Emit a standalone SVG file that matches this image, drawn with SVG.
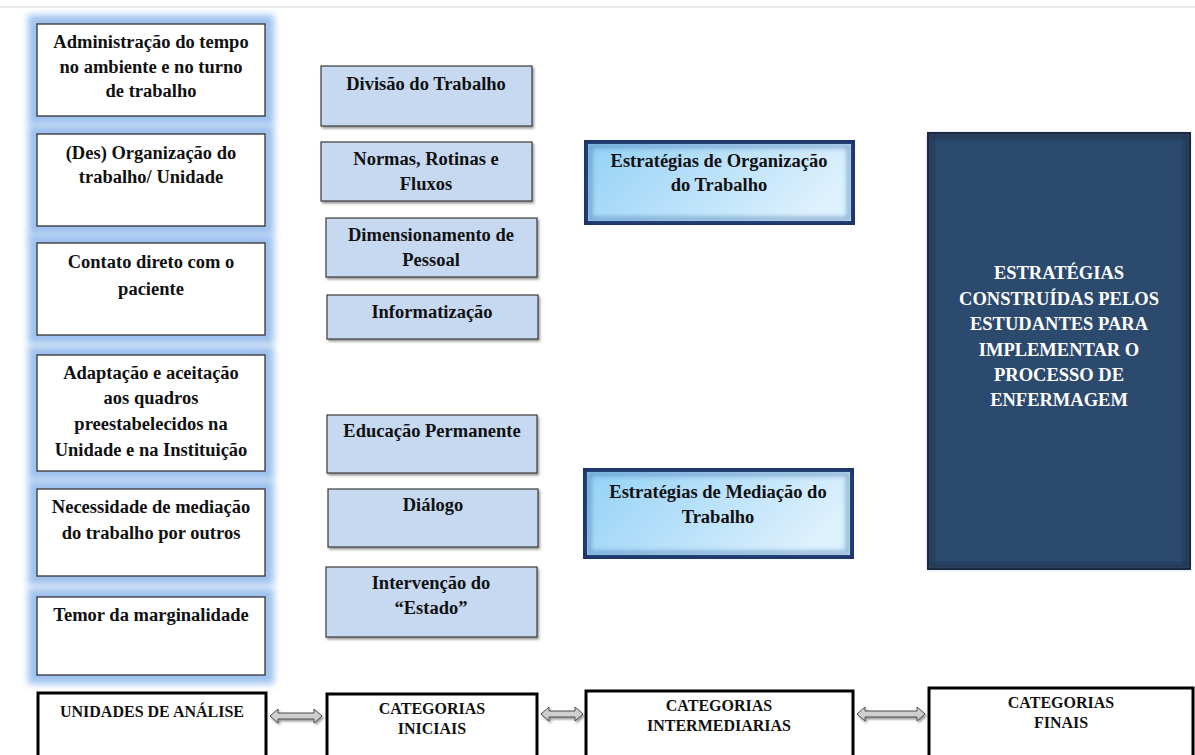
<svg xmlns="http://www.w3.org/2000/svg" width="1195" height="755" viewBox="0 0 1195 755">
<style>
text{font-family:"Liberation Serif","Times New Roman",serif;font-weight:bold;text-anchor:middle;fill:#111}
.t{font-size:18.5px}
.b{font-size:16px}
.w{font-size:18.5px;fill:#fff}
.glow{fill:#9ec1ee;filter:url(#blur)}
.unit{fill:#fff;stroke:#333;stroke-width:1.3}
.cat{fill:#c6d9f1;stroke:#3a3a3a;stroke-width:1.2;filter:url(#sh)}
.strat{fill:url(#g1);stroke:#1c3468;stroke-width:4}
.inner{fill:none;stroke:#3b6ea5;stroke-opacity:.45;stroke-width:5;filter:url(#soft)}
.bot{fill:#fff;stroke:#000;stroke-width:3}
.arr{fill:#cfcfcf;stroke:#4a4a4a;stroke-width:1;filter:url(#sh)}
</style>
<defs>
<filter id="blur" x="-20%" y="-20%" width="140%" height="140%"><feGaussianBlur stdDeviation="3.5"/></filter>
<filter id="soft" x="-10%" y="-10%" width="120%" height="120%"><feGaussianBlur stdDeviation="2"/></filter>
<filter id="sh" x="-10%" y="-10%" width="130%" height="140%"><feDropShadow dx="1.5" dy="2" stdDeviation="1.2" flood-color="#000" flood-opacity="0.4"/></filter>
<linearGradient id="g1" x1="0" y1="0" x2="1" y2="0.3">
<stop offset="0" stop-color="#93d1f6"/>
<stop offset="1" stop-color="#dcf0fd"/>
</linearGradient>
</defs>
<rect width="1195" height="755" fill="#fff"/>
<line x1="0" y1="7" x2="1195" y2="7" stroke="#d4d4d4" stroke-width="1"/>

<g id="unidades-glow">
<rect class="glow" x="28" y="15" width="246" height="110"/>
<rect class="glow" x="28" y="125" width="246" height="110"/>
<rect class="glow" x="28" y="234" width="246" height="110"/>
<rect class="glow" x="28" y="346" width="246" height="134"/>
<rect class="glow" x="28" y="480" width="246" height="105"/>
<rect class="glow" x="28" y="588" width="246" height="96"/>
</g>

<g id="u1"><rect class="unit" x="37" y="24" width="228" height="92"/>
<text class="t" x="151" y="48">Administração do tempo</text>
<text class="t" x="151" y="73">no ambiente e no turno</text>
<text class="t" x="151" y="97">de trabalho</text></g>
<g id="u2"><rect class="unit" x="37" y="134" width="228" height="92"/>
<text class="t" x="151" y="159">(Des) Organização do</text>
<text class="t" x="151" y="183">trabalho/ Unidade</text></g>
<g id="u3"><rect class="unit" x="37" y="243" width="228" height="92"/>
<text class="t" x="151" y="268">Contato direto com o</text>
<text class="t" x="151" y="295">paciente</text></g>
<g id="u4"><rect class="unit" x="37" y="355" width="228" height="116"/>
<text class="t" x="151" y="379">Adaptação e aceitação</text>
<text class="t" x="151" y="404">aos quadros</text>
<text class="t" x="151" y="430">preestabelecidos na</text>
<text class="t" x="151" y="456">Unidade e na Instituição</text></g>
<g id="u5"><rect class="unit" x="37" y="489" width="228" height="87"/>
<text class="t" x="151" y="513">Necessidade de mediação</text>
<text class="t" x="151" y="539">do trabalho por outros</text></g>
<g id="u6"><rect class="unit" x="37" y="597" width="228" height="78"/>
<text class="t" x="151" y="621">Temor da marginalidade</text></g>

<g id="c1"><rect class="cat" x="321" y="66" width="211" height="60"/>
<text class="t" x="426" y="90">Divisão do Trabalho</text></g>
<g id="c2"><rect class="cat" x="321" y="142" width="211" height="59"/>
<text class="t" x="426" y="165">Normas, Rotinas e</text>
<text class="t" x="426" y="190">Fluxos</text></g>
<g id="c3"><rect class="cat" x="326" y="218" width="211" height="59"/>
<text class="t" x="431" y="241">Dimensionamento de</text>
<text class="t" x="431" y="266">Pessoal</text></g>
<g id="c4"><rect class="cat" x="327" y="295" width="211" height="44"/>
<text class="t" x="432" y="318">Informatização</text></g>
<g id="c5"><rect class="cat" x="327" y="415" width="210" height="58"/>
<text class="t" x="432" y="437">Educação Permanente</text></g>
<g id="c6"><rect class="cat" x="328" y="489" width="210" height="58"/>
<text class="t" x="433" y="511">Diálogo</text></g>
<g id="c7"><rect class="cat" x="326" y="567" width="211" height="70"/>
<text class="t" x="431" y="589">Intervenção do</text>
<text class="t" x="431" y="614">“Estado”</text></g>

<g id="s1"><rect class="strat" x="586" y="142" width="267" height="81"/>
<rect class="inner" x="590" y="146" width="259" height="73"/>
<text class="t" x="719" y="167">Estratégias de Organização</text>
<text class="t" x="719" y="191">do Trabalho</text></g>
<g id="s2"><rect class="strat" x="585" y="470" width="267" height="87"/>
<rect class="inner" x="589" y="474" width="259" height="79"/>
<text class="t" x="718" y="498">Estratégias de Mediação do</text>
<text class="t" x="718" y="523">Trabalho</text></g>

<g id="final"><rect x="928" y="133" width="262" height="436" fill="#2c4a6e" stroke="#1a2d45" stroke-width="2"/>
<rect x="931" y="136" width="256" height="430" fill="none" stroke="#0f1e33" stroke-opacity=".5" stroke-width="4" filter="url(#soft)"/>
<text class="w" x="1059" y="279">ESTRATÉGIAS</text>
<text class="w" x="1059" y="305">CONSTRUÍDAS PELOS</text>
<text class="w" x="1059" y="330">ESTUDANTES PARA</text>
<text class="w" x="1059" y="356">IMPLEMENTAR  O</text>
<text class="w" x="1059" y="381">PROCESSO DE</text>
<text class="w" x="1059" y="406">ENFERMAGEM</text></g>

<g id="b1"><rect class="bot" x="38" y="693" width="228" height="80"/>
<text class="b" x="152" y="717">UNIDADES DE ANÁLISE</text></g>
<g id="b2"><rect class="bot" x="327" y="694" width="210" height="80"/>
<text class="b" x="432" y="714">CATEGORIAS</text>
<text class="b" x="432" y="734">INICIAIS</text></g>
<g id="b3"><rect class="bot" x="586" y="691" width="267" height="80"/>
<text class="b" x="719" y="711">CATEGORIAS</text>
<text class="b" x="719" y="731">INTERMEDIARIAS</text></g>
<g id="b4"><rect class="bot" x="929" y="688" width="264" height="80"/>
<text class="b" x="1061" y="708">CATEGORIAS</text>
<text class="b" x="1061" y="728">FINAIS</text></g>

<g id="connectors">
<path class="arr" d="M270,716 L278,709 L278,713 L314,713 L314,709 L322,716 L314,723 L314,719 L278,719 L278,723 Z"/>
<path class="arr" d="M541,714 L549,707 L549,711 L575,711 L575,707 L583,714 L575,721 L575,717 L549,717 L549,721 Z"/>
<path class="arr" d="M857,714 L865,707 L865,711 L917,711 L917,707 L925,714 L917,721 L917,717 L865,717 L865,721 Z"/>
</g>
</svg>
